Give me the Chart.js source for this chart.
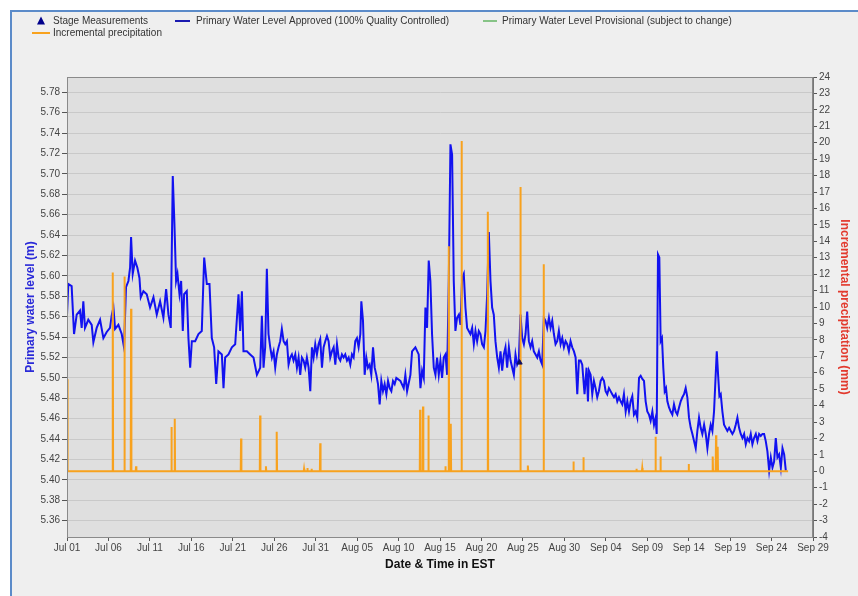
<!DOCTYPE html>
<html lang="en">
<head>
<meta charset="UTF-8">
<title>Primary water level and incremental precipitation</title>
<script src="https://cdn.jsdelivr.net/npm/chart.js@4.4.1/dist/chart.umd.min.js"></script>
<style>
   html, body { margin: 0; padding: 0; background: #fff; }
   .wrap { position: relative; width: 858px; height: 596px; overflow: hidden; }
   .panel { position: absolute; left: 10px; top: 10px; right: 0; bottom: 0;
            background: #efefef; border-top: 2px solid #5b8bc9; border-left: 2px solid #5b8bc9; }
   #chartLevel { position: absolute; left: 0; top: 0; }
</style>
</head>
<body>
<div class="wrap">
   <div class="panel"></div>
   <canvas id="chartLevel" width="858" height="596"></canvas>
</div>
<script>
// x values are days since Jul 01 00:00 (EST)
var xTickDays = [0, 5, 10, 15, 20, 25, 30, 35, 40, 45, 50, 55, 60, 65, 70, 75, 80, 85, 90];
var xTickLabels = ['Jul 01', 'Jul 06', 'Jul 11', 'Jul 16', 'Jul 21', 'Jul 26', 'Jul 31', 'Aug 05', 'Aug 10',
   'Aug 15', 'Aug 20', 'Aug 25', 'Aug 30', 'Sep 04', 'Sep 09', 'Sep 14', 'Sep 19', 'Sep 24', 'Sep 29'];
var levelTicks = [5.36, 5.38, 5.40, 5.42, 5.44, 5.46, 5.48, 5.50, 5.52, 5.54, 5.56, 5.58, 5.60,
   5.62, 5.64, 5.66, 5.68, 5.70, 5.72, 5.74, 5.76, 5.78];

// Primary water level approved (m)
var levelDays = [
   0.0, 0.16, 0.56, 0.85, 1.17, 1.57, 1.77, 1.97, 2.17, 2.57, 2.98, 3.18, 3.58, 3.99, 4.39, 4.79, 5.19, 5.39, 5.6, 5.8,
   6.2, 6.6, 6.88, 7.12, 7.41, 7.61, 7.73, 7.93, 8.21, 8.49, 8.74, 8.9, 9.22, 9.62, 10.02, 10.43, 10.83, 11.23, 11.63, 11.96,
   12.24, 12.52, 12.76, 12.96, 13.16, 13.33, 13.57, 13.77, 13.97, 14.13, 14.45, 14.65, 14.86, 15.06, 15.46, 15.86, 16.26, 16.55, 16.87, 17.19,
   17.47, 17.75, 18.0, 18.27, 18.68, 18.88, 19.08, 19.48, 19.89, 20.29, 20.69, 20.89, 21.1, 21.29, 21.7, 22.1, 22.5, 22.91,
   23.31, 23.51, 23.71, 23.91, 24.11, 24.31, 24.52, 24.72, 24.92, 25.12, 25.32, 25.52, 25.72, 25.92, 26.13, 26.33, 26.53, 26.73, 26.93, 27.13,
   27.33, 27.54, 27.74, 27.94, 28.14, 28.34, 28.54, 28.74, 28.94, 29.15, 29.35, 29.55, 29.75, 29.95, 30.15, 30.35, 30.55, 30.76, 30.96, 31.16,
   31.36, 31.56, 31.76, 31.96, 32.17, 32.37, 32.57, 32.77, 32.97, 33.17, 33.37, 33.57, 33.78, 33.98, 34.18, 34.38, 34.58, 34.78, 34.98, 35.18,
   35.39, 35.51, 35.71, 35.91, 36.11, 36.31, 36.51, 36.71, 36.92, 37.12, 37.32, 37.52, 37.72, 37.92, 38.12, 38.32, 38.53, 38.73, 38.93, 39.13,
   39.33, 39.53, 39.73, 40.22, 40.62, 40.82, 41.03, 41.43, 41.63, 42.03, 42.43, 42.64, 42.84, 43.04, 43.24, 43.44, 43.64, 43.84, 44.04, 44.25,
   44.45, 44.65, 44.85, 45.05, 45.25, 45.45, 45.66, 45.86, 46.06, 46.26, 46.46, 46.66, 46.86, 47.06, 47.27, 47.47, 47.67, 47.87, 48.07, 48.27,
   48.47, 48.67, 48.88, 49.08, 49.28, 49.48, 49.68, 49.88, 50.08, 50.29, 50.49, 50.69, 50.89, 51.09, 51.29, 51.49, 51.69, 51.9, 52.1, 52.3,
   52.5, 52.7, 52.9, 53.1, 53.31, 53.51, 53.91, 54.11, 54.31, 54.51, 54.71, 54.92, 55.12, 55.32, 55.52, 55.72, 55.92, 56.12, 56.32, 56.53,
   56.73, 56.93, 57.13, 57.33, 57.53, 57.73, 57.93, 58.14, 58.34, 58.54, 58.74, 58.94, 59.14, 59.34, 59.55, 59.75, 59.95, 60.15, 60.35, 60.55,
   60.75, 60.95, 61.16, 61.36, 61.56, 61.76, 61.96, 62.16, 62.44, 62.68, 62.85, 62.97, 63.17, 63.37, 63.57, 63.77, 63.97, 64.17, 64.38, 64.58,
   64.78, 64.98, 65.18, 65.38, 65.58, 65.78, 65.99, 66.19, 66.39, 66.59, 66.79, 66.99, 67.19, 67.4, 67.6, 67.8, 68.0, 68.2, 68.4, 68.6,
   68.8, 69.01, 69.21, 69.41, 69.61, 69.81, 70.01, 70.21, 70.41, 70.62, 70.82, 71.02, 71.14, 71.3, 71.46, 71.62, 71.78, 71.94, 72.11, 72.27,
   72.43, 72.63, 72.83, 73.03, 73.23, 73.43, 73.63, 73.84, 74.04, 74.24, 74.44, 74.64, 74.84, 75.04, 75.25, 75.45, 75.65, 75.85, 76.05, 76.25,
   76.45, 76.65, 76.86, 77.06, 77.26, 77.46, 77.66, 77.86, 78.06, 78.26, 78.39, 78.55, 78.71, 78.87, 79.07, 79.27, 79.47, 79.67, 79.88, 80.08,
   80.28, 80.48, 80.68, 80.88, 81.08, 81.28, 81.49, 81.69, 81.89, 82.09, 82.29, 82.49, 82.69, 82.89, 83.1, 83.3, 83.5, 83.7, 83.9, 84.1,
   84.3, 84.5, 84.71, 84.91, 85.11, 85.31, 85.51, 85.71, 85.91, 86.12, 86.32, 86.52, 86.72
];
var levelValues = [
   5.562, 5.592, 5.590, 5.543, 5.562, 5.566, 5.549, 5.575, 5.549, 5.557, 5.552, 5.535, 5.549, 5.557, 5.539, 5.545, 5.549, 5.561, 5.569, 5.548,
   5.552, 5.543, 5.530, 5.589, 5.595, 5.608, 5.638, 5.602, 5.615, 5.608, 5.598, 5.579, 5.585, 5.582, 5.569, 5.579, 5.562, 5.575, 5.559, 5.587,
   5.562, 5.549, 5.698, 5.651, 5.595, 5.602, 5.582, 5.595, 5.546, 5.582, 5.585, 5.539, 5.510, 5.536, 5.536, 5.543, 5.546, 5.618, 5.592, 5.592,
   5.539, 5.530, 5.494, 5.526, 5.523, 5.490, 5.520, 5.523, 5.530, 5.533, 5.582, 5.546, 5.585, 5.526, 5.526, 5.523, 5.520, 5.503,
   5.510, 5.561, 5.510, 5.530, 5.607, 5.543, 5.530, 5.520, 5.526, 5.510, 5.523, 5.530, 5.536, 5.548, 5.536, 5.533, 5.536, 5.513, 5.520, 5.523,
   5.517, 5.523, 5.510, 5.520, 5.503, 5.520, 5.517, 5.510, 5.520, 5.510, 5.487, 5.530, 5.520, 5.533, 5.523, 5.533, 5.538, 5.510, 5.530, 5.536,
   5.541, 5.536, 5.520, 5.526, 5.530, 5.513, 5.533, 5.520, 5.517, 5.523, 5.520, 5.523, 5.517, 5.520, 5.513, 5.523, 5.520, 5.536, 5.539, 5.530,
   5.543, 5.575, 5.556, 5.503, 5.520, 5.510, 5.513, 5.503, 5.530, 5.510, 5.503, 5.494, 5.474, 5.497, 5.487, 5.494, 5.484, 5.497, 5.490, 5.487,
   5.497, 5.494, 5.500, 5.497, 5.490, 5.503, 5.487, 5.503, 5.526, 5.530, 5.523, 5.490, 5.507, 5.500, 5.569, 5.549, 5.615, 5.595, 5.543, 5.510,
   5.503, 5.520, 5.503, 5.517, 5.500, 5.520, 5.523, 5.503, 5.595, 5.729, 5.719, 5.595, 5.546, 5.559, 5.562, 5.552, 5.598, 5.602, 5.569, 5.549,
   5.546, 5.543, 5.549, 5.533, 5.546, 5.536, 5.546, 5.543, 5.533, 5.530, 5.546, 5.582, 5.643, 5.595, 5.569, 5.562, 5.536, 5.520, 5.510, 5.526,
   5.507, 5.523, 5.530, 5.510, 5.530, 5.517, 5.503, 5.523, 5.513, 5.517, 5.562, 5.539, 5.533, 5.543, 5.565, 5.536, 5.530, 5.536, 5.526, 5.523,
   5.520, 5.526, 5.517, 5.513, 5.559, 5.556, 5.549, 5.559, 5.549, 5.556, 5.543, 5.533, 5.536, 5.546, 5.533, 5.539, 5.530, 5.536, 5.533, 5.526,
   5.536, 5.530, 5.526, 5.520, 5.484, 5.517, 5.517, 5.513, 5.484, 5.510, 5.477, 5.507, 5.503, 5.484, 5.497, 5.490, 5.481, 5.487, 5.497, 5.500,
   5.497, 5.487, 5.484, 5.490, 5.487, 5.484, 5.481, 5.484, 5.477, 5.481, 5.477, 5.474, 5.484, 5.467, 5.477, 5.467, 5.477, 5.482, 5.464, 5.467,
   5.461, 5.500, 5.502, 5.499, 5.497, 5.477, 5.467, 5.464, 5.458, 5.467, 5.454, 5.461, 5.445, 5.621, 5.618, 5.536, 5.539, 5.510, 5.487, 5.490,
   5.477, 5.471, 5.467, 5.464, 5.474, 5.467, 5.464, 5.471, 5.477, 5.481, 5.484, 5.490, 5.481, 5.461, 5.451, 5.445, 5.438, 5.431, 5.448, 5.461,
   5.451, 5.445, 5.454, 5.445, 5.431, 5.445, 5.454, 5.448, 5.467, 5.503, 5.526, 5.503, 5.482, 5.484, 5.467, 5.454, 5.451, 5.448, 5.451, 5.448,
   5.445, 5.448, 5.454, 5.461, 5.451, 5.445, 5.441, 5.445, 5.435, 5.441, 5.438, 5.445, 5.435, 5.441, 5.445, 5.438, 5.445, 5.443, 5.445, 5.445,
   5.438, 5.428, 5.409, 5.422, 5.412, 5.418, 5.441, 5.422, 5.425, 5.412, 5.431, 5.425, 5.409
];

// Incremental precipitation (mm)
var precipDays = [
   0.0, 0.04, 0.1, 5.48, 5.52, 5.56, 6.89, 6.93, 6.97, 7.69, 7.73, 7.77, 8.29, 8.33, 8.37,
   12.56, 12.6, 12.64, 12.96, 13.0, 13.04, 20.96, 21.0, 21.04, 23.26, 23.3, 23.34, 23.96, 24.0, 24.04,
   25.26, 25.3, 25.34, 28.56, 28.6, 28.64, 28.96, 29.0, 29.04, 29.46, 29.5, 29.54, 30.51, 30.55, 30.59,
   42.56, 42.6, 42.64, 42.91, 42.95, 42.99, 43.56, 43.6, 43.64, 45.61, 45.65, 45.69, 46.02, 46.06, 46.1,
   46.26, 46.3, 46.34, 47.56, 47.6, 47.64, 50.73, 50.77, 50.81, 54.66, 54.7, 54.74, 55.56, 55.6, 55.64,
   57.46, 57.5, 57.54, 61.06, 61.1, 61.14, 62.26, 62.3, 62.34, 68.66, 68.7, 68.74, 69.36, 69.4, 69.44,
   70.96, 71.0, 71.04, 71.56, 71.6, 71.64, 74.96, 75.0, 75.04, 77.86, 77.9, 77.94, 78.26, 78.3, 78.34,
   78.46, 78.5, 78.54, 87.0
];
var precipValues = [
   0, 5.6, 0, 0, 12.1, 0, 0, 11.85, 0, 0, 9.9, 0, 0, 0.3, 0,
   0, 2.7, 0, 0, 3.2, 0, 0, 2.0, 0, 0, 3.4, 0, 0, 0.3, 0,
   0, 2.4, 0, 0, 0.15, 0, 0, 0.2, 0, 0, 0.15, 0, 0, 1.7, 0,
   0, 3.75, 0, 0, 3.95, 0, 0, 3.4, 0, 0, 0.3, 0, 0, 13.7, 0,
   0, 2.9, 0, 0, 20.1, 0, 0, 15.8, 0, 0, 17.3, 0, 0, 0.35, 0,
   0, 12.6, 0, 0, 0.6, 0, 0, 0.85, 0, 0, 0.15, 0, 0, 0.2, 0,
   0, 2.1, 0, 0, 0.9, 0, 0, 0.45, 0, 0, 0.9, 0, 0, 2.2, 0,
   0, 1.5, 0, 0
];

// Stage measurements (m)
var stageDays = [54.6];
var stageValues = [5.515];

var BLUE = '#1212f0';
var ORANGE = '#f8a21e';
var TICK_FONT = { family: 'Liberation Sans, Arial, sans-serif', size: 10 };

function toPoints(xs, ys) {
   return xs.map(function (x, i) { return { x: x, y: ys[i] }; });
}

// plot background, frame and legend
var frame = {
   id: 'frame',
   beforeDraw: function (chart) {
      var a = chart.chartArea, c = chart.ctx;
      c.save();
      c.fillStyle = '#dfdfdf';
      c.fillRect(a.left, a.top, a.right - a.left, a.bottom - a.top);
      c.restore();
   },
   afterDraw: function (chart) {
      var a = chart.chartArea, c = chart.ctx;
      c.save();
      c.strokeStyle = '#8a8a8a';
      c.lineWidth = 1;
      c.strokeRect(a.left + 0.5, a.top + 0.5, a.right - a.left - 1, a.bottom - a.top);

      c.font = '10px Liberation Sans, Arial, sans-serif';
      c.fillStyle = '#333';
      c.textBaseline = 'middle';
      // stage measurement triangle
      c.fillStyle = '#00008b';
      c.beginPath();
      c.moveTo(41, 16.5); c.lineTo(45, 24.5); c.lineTo(37, 24.5); c.closePath();
      c.fill();
      c.fillStyle = '#333';
      c.fillText('Stage Measurements', 53, 21);
      c.lineWidth = 2;
      c.strokeStyle = '#1a1ab0';
      c.beginPath(); c.moveTo(175, 21); c.lineTo(190, 21); c.stroke();
      c.fillText('Primary Water Level Approved (100% Quality Controlled)', 196, 21);
      c.strokeStyle = '#86c386';
      c.beginPath(); c.moveTo(483, 21); c.lineTo(497, 21); c.stroke();
      c.fillText('Primary Water Level Provisional (subject to change)', 502, 21);
      c.strokeStyle = ORANGE;
      c.beginPath(); c.moveTo(32, 33); c.lineTo(50, 33); c.stroke();
      c.fillText('Incremental precipitation', 53, 33);
      c.restore();
   }
};

var ctx = document.getElementById('chartLevel').getContext('2d');
var chartLevel = new Chart(ctx, {
   type: 'line',
   plugins: [frame],
   data: {
      datasets: [{
         label: 'Stage Measurements',
         data: toPoints(stageDays, stageValues),
         yAxisID: 'y',
         showLine: false,
         pointStyle: 'triangle',
         pointRadius: 3,
         pointBackgroundColor: '#101060',
         pointBorderColor: '#101060',
         order: 0
      }, {
         label: 'Incremental precipitation',
         data: toPoints(precipDays, precipValues),
         yAxisID: 'y1',
         borderColor: ORANGE,
         borderWidth: 2,
         pointRadius: 0,
         tension: 0,
         order: 1
      }, {
         label: 'Primary Water Level Approved (100% Quality Controlled)',
         data: toPoints(levelDays, levelValues),
         yAxisID: 'y',
         borderColor: BLUE,
         borderWidth: 2,
         pointRadius: 0,
         tension: 0,
         order: 2
      }]
   },
   options: {
      responsive: false,
      animation: false,
      devicePixelRatio: 1,
      layout: { padding: { top: 77, left: 10, right: 0, bottom: 0 } },
      plugins: {
         legend: { display: false },
         tooltip: { enabled: false }
      },
      scales: {
         x: {
            type: 'linear',
            min: 0,
            max: 90,
            afterBuildTicks: function (axis) {
               axis.ticks = xTickDays.map(function (d) { return { value: d }; });
            },
            afterFit: function (axis) { axis.height = 59; },
            ticks: {
               autoSkip: false,
               maxRotation: 0,
               padding: 1,
               color: '#444',
               font: TICK_FONT,
               callback: function (value, index) { return xTickLabels[index]; }
            },
            grid: { drawOnChartArea: false, tickLength: 4, tickColor: '#555' },
            border: { color: '#777' },
            title: {
               display: true,
               text: 'Date & Time in EST',
               color: '#111',
               font: { family: 'Liberation Sans, Arial, sans-serif', size: 12, weight: 'bold' },
               padding: { top: 0, bottom: 24 }
            }
         },
         y: {
            position: 'left',
            min: 5.344,
            max: 5.795,
            afterBuildTicks: function (axis) {
               axis.ticks = levelTicks.map(function (v) { return { value: v }; });
            },
            afterFit: function (axis) { axis.width = 57; },
            ticks: {
               autoSkip: false,
               padding: 2,
               color: '#444',
               font: TICK_FONT,
               callback: function (value) { return value.toFixed(2); }
            },
            grid: { color: '#c9c9c9', tickLength: 5, tickColor: '#555' },
            border: { color: '#777' },
            title: {
               display: true,
               text: 'Primary water level (m)',
               color: '#2a2ad8',
               font: { family: 'Liberation Sans, Arial, sans-serif', size: 12, weight: 'bold' },
               padding: { top: 13, bottom: 0 }
            }
         },
         y1: {
            position: 'right',
            min: -4,
            max: 24,
            afterFit: function (axis) { axis.width = 45; },
            ticks: {
               stepSize: 1,
               autoSkip: false,
               padding: 2,
               color: '#444',
               font: TICK_FONT
            },
            grid: { drawOnChartArea: false, tickLength: 4, tickColor: '#555' },
            border: { color: '#777' },
            title: {
               display: true,
               text: 'Incremental precipitation (mm)',
               color: '#e23a2e',
               font: { family: 'Liberation Sans, Arial, sans-serif', size: 12, weight: 'bold' },
               padding: { top: 6, bottom: 0 }
            }
         }
      }
   }
});
</script>
</body>
</html>
